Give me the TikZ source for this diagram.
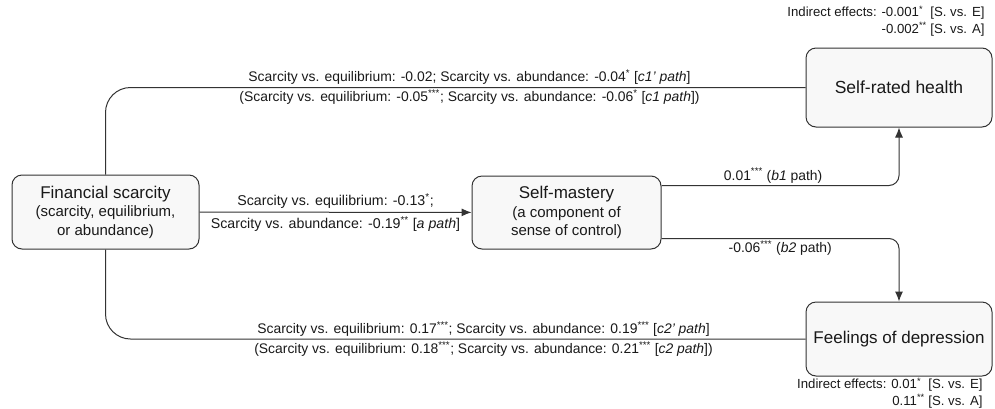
\documentclass[tikz,border=0pt]{standalone}
\usepackage{fontspec}
\setmainfont{Liberation Sans}
\usepackage{xcolor}
\usetikzlibrary{shapes,arrows,arrows.meta,positioning}
\definecolor{linegray}{HTML}{333333}
\definecolor{boxfill}{HTML}{F8F8F8}
\newcommand{\sig}[1]{\textsuperscript{#1}}

\begin{document}
\begin{tikzpicture}[x=1pt, y=-1pt, every node/.style={font=\fontsize{13.9}{16}\selectfont, text=black!90},
  box/.style={draw=linegray, fill=boxfill, line width=1pt, rounded corners=10pt, align=center, inner sep=0pt, font=\fontsize{15}{18.5}\selectfont},
  conn/.style={draw=linegray, line width=1pt},
  arr/.style={conn, -{Latex[length=10pt,width=8pt]}},
  indirect/.style={anchor=east, align=right, font=\fontsize{13.2}{16.5}\selectfont}]
\useasboundingbox (0,0) rectangle (995,408);

\node[box, minimum width=187pt, minimum height=74pt] (fin) at (105.5,212) {{\fontsize{17}{20}\selectfont Financial scarcity}\\ (scarcity, equilibrium,\\ or abundance)};
\node[box, minimum width=189pt, minimum height=73pt] (mastery) at (566.5,212.5) {{\fontsize{17}{20}\selectfont Self-mastery}\\ (a component of\\ sense of control)};
\node[box, minimum width=186pt, minimum height=79pt] (health) at (899,87.5) {\fontsize{17.5}{20}\selectfont Self-rated health};
\node[box, minimum width=186pt, minimum height=74pt] (depr) at (899,339) {\fontsize{17}{20}\selectfont Feelings of depression};

\draw [conn, rounded corners=25pt] (fin.north) |- node[pos=0.76, above, inner sep=2.5pt]{Scarcity vs. equilibrium: -0.02; Scarcity vs. abundance: -0.04\sig{*} [\textit{c1' path}]} node[pos=0.76, below, inner sep=2pt]{(Scarcity vs. equilibrium: -0.05\sig{***}; Scarcity vs. abundance: -0.06\sig{*} [\textit{c1 path}])} (health.west);
\draw [arr] (fin) -- node[above, inner sep=3.5pt, font=\fontsize{14.2}{16}\selectfont]{Scarcity vs. equilibrium: -0.13\sig{*};} node[below, inner sep=3.5pt, font=\fontsize{14.2}{16}\selectfont]{Scarcity vs. abundance: -0.19\sig{**} [\textit{a path}]} (mastery);
\draw [conn, rounded corners=25pt] (fin.south) |- node[pos=0.77, above, inner sep=2pt]{Scarcity vs. equilibrium: 0.17\sig{***}; Scarcity vs. abundance: 0.19\sig{***} [\textit{c2' path}]} node[pos=0.77, below, inner sep=2pt]{(Scarcity vs. equilibrium: 0.18\sig{***}; Scarcity vs. abundance: 0.21\sig{***} [\textit{c2 path}])} (depr.west);

\draw [arr, rounded corners=10pt] ([yshift=27pt]mastery.east) -| node[pos=0.235, above, inner sep=2pt]{0.01\sig{***} (\textit{b1} path)} (health.south);
\draw [arr, rounded corners=10pt] ([yshift=-26pt]mastery.east) -| node[pos=0.25, below, inner sep=2pt]{-0.06\sig{***} (\textit{b2} path)} (depr.north);

\node [indirect] (indhealth) at (988,21) {Indirect effects: -0.001\sig{*}\ \ [S. vs. E]\\ -0.002\sig{**} [S. vs. A]};
\node [indirect] (inddepr) at (986,393) {Indirect effects: 0.01\sig{*}\ \ [S. vs. E]\\ 0.11\sig{**} [S. vs. A]};

\end{tikzpicture}
\end{document}
